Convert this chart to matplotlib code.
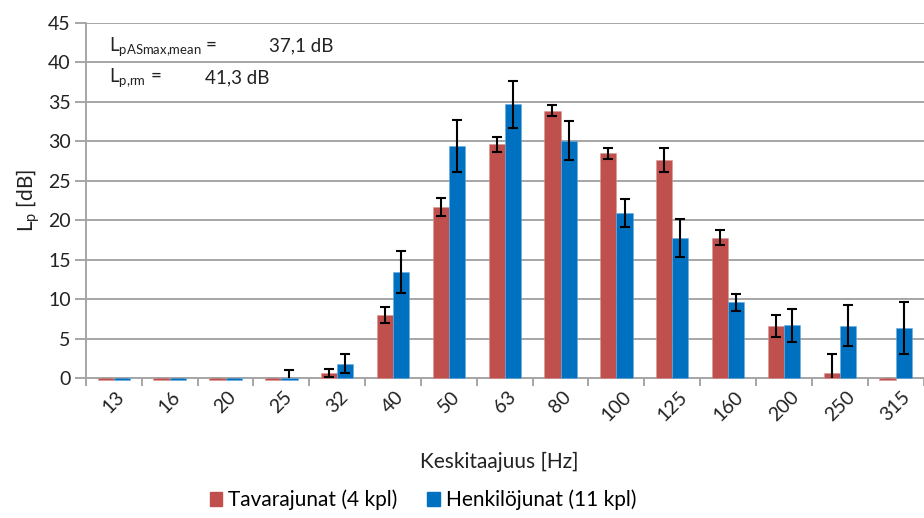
import numpy as np
import matplotlib
matplotlib.use('Agg')
import matplotlib.pyplot as plt
from matplotlib.patches import Patch

plt.rcParams['font.family'] = ['Lato', 'DejaVu Sans']
plt.rcParams['mathtext.fontset'] = 'custom'
plt.rcParams['mathtext.rm'] = 'Lato'
plt.rcParams['mathtext.default'] = 'rm'

# data
freqs = ['13', '16', '20', '25', '32', '40', '50', '63', '80', '100', '125', '160', '200', '250', '315']
tavara = [-0.2, -0.2, -0.2, -0.2, 0.6, 8.0, 21.7, 29.6, 33.9, 28.5, 27.6, 17.8, 6.6, 0.6, -0.3]
tavara_err = [0, 0, 0, 0, 0.5, 1.05, 1.15, 0.95, 0.7, 0.7, 1.5, 0.9, 1.4, 2.4, 0]
henkilo = [-0.2, -0.2, -0.2, -0.2, 1.8, 13.4, 29.4, 34.7, 30.1, 20.9, 17.7, 9.6, 6.7, 6.6, 6.3]
henkilo_err = [0, 0, 0, 1.2, 1.2, 2.65, 3.3, 3.0, 2.5, 1.8, 2.4, 1.1, 2.1, 2.6, 3.3]

red = '#C0504D'
blue = '#0070C0'
grid_c = '#A6A6A6'
txt = '#222222'

fig = plt.figure(figsize=(9.24, 5.18), dpi=100)
ax = fig.add_axes([0.093, 0.2703, 0.9065, 0.6853])

x = np.arange(len(freqs))
w = 0.29
ax.bar(x - w / 2, tavara, w, color=red, edgecolor='#D99795', linewidth=0.4, zorder=3, clip_on=False)
ax.bar(x + w / 2, henkilo, w, color=blue, edgecolor='#6AAAE0', linewidth=0.4, zorder=3, clip_on=False)
ax.errorbar(x - w / 2, tavara, yerr=tavara_err, fmt='none', ecolor='black', elinewidth=1.5,
            capsize=3.8, capthick=1.5, zorder=4)
ax.errorbar(x + w / 2, henkilo, yerr=henkilo_err, fmt='none', ecolor='black', elinewidth=1.5,
            capsize=3.8, capthick=1.5, zorder=4)

ax.set_xlim(-0.5, len(freqs) - 0.5)
ax.set_ylim(0, 45)
ax.set_yticks(np.arange(0, 46, 5))
ax.yaxis.grid(True, color=grid_c, linewidth=1.4, zorder=0)
ax.set_axisbelow(True)

ax.set_xticks(x)
ax.set_xticklabels(freqs, rotation=45, ha='center', va='top')
ax.set_xticks(np.arange(-0.5, len(freqs), 1), minor=True)
ax.tick_params(axis='x', which='major', length=0, pad=7, labelsize=14, colors=txt)
ax.tick_params(axis='x', which='minor', length=6, width=1.4, color=grid_c, direction='out')
ax.tick_params(axis='y', length=8, width=1.4, color=grid_c, labelsize=14, labelcolor=txt, pad=3)

for s in ['top', 'right']:
    ax.spines[s].set_visible(False)
ax.spines['left'].set_color(grid_c)
ax.spines['left'].set_linewidth(1.4)
ax.spines['bottom'].set_color(grid_c)
ax.spines['bottom'].set_linewidth(1.4)

ax.set_ylabel(r'L$_{\mathrm{p}}$ [dB]', fontsize=15, color=txt, labelpad=4)
fig.text(499 / 924, 1 - 462 / 518, 'Keskitaajuus [Hz]', ha='center', va='center', fontsize=15, color=txt)

ax.text(0.028, 0.935, r'L$_{\mathrm{pASmax{,}mean}}$ =', transform=ax.transAxes, fontsize=13.5, va='center', color=txt)
ax.text(0.218, 0.935, '37,1 dB', transform=ax.transAxes, fontsize=13.5, va='center', color=txt)
ax.text(0.028, 0.845, r'L$_{\mathrm{p{,}rm}}$ =', transform=ax.transAxes, fontsize=13.5, va='center', color=txt)
ax.text(0.142, 0.845, '41,3 dB', transform=ax.transAxes, fontsize=13.5, va='center', color=txt)

handles = [Patch(color=red), Patch(color=blue)]
fig.legend(handles, ['Tavarajunat (4 kpl)', 'Henkilöjunat (11 kpl)'], loc='center',
           bbox_to_anchor=(423 / 924, 1 - 500 / 518), ncol=2, frameon=False, fontsize=15,
           handlelength=0.6, handleheight=0.6, handletextpad=0.3, columnspacing=1.4)

fig.savefig('out.png', dpi=100)
